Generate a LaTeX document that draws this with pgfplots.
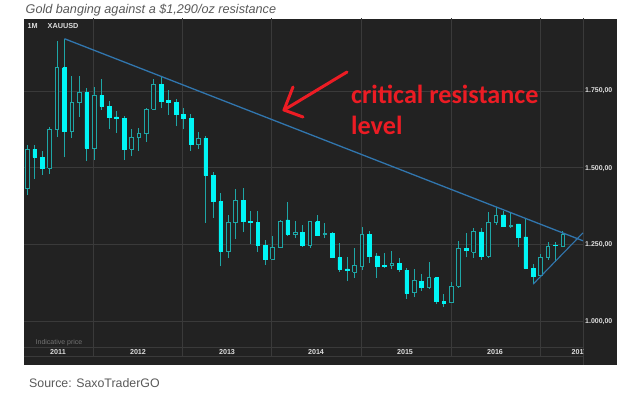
\documentclass[border=0pt]{standalone}
\usepackage{fontspec}
\setmainfont{Liberation Sans}
\newfontfamily\carlito{Carlito}
\usepackage{pgfplots}
\usepackage{pgfplotstable}
\pgfplotsset{compat=1.18}
\definecolor{bg}{HTML}{222222}
\definecolor{gridc}{HTML}{3A3A3A}
\definecolor{wickc}{HTML}{1EA6A6}
\definecolor{bodyc}{HTML}{00F5F5}
\definecolor{trend}{HTML}{3176AE}
\definecolor{redc}{HTML}{EC1C24}
\definecolor{lblc}{HTML}{DDDDDD}

\pgfplotstableread{
i o h l c
-9 1432 1575 1412 1560
-8 1560 1575 1464 1534
-7 1534 1555 1478 1499
-6 1499 1632 1480 1626
-5 1626 1911 1600 1826
-4 1826 1920 1534 1620
-3 1620 1800 1597 1712
-2 1712 1800 1666 1745
-1 1745 1759 1522 1564
0 1562 1764 1527 1737
1 1736 1790 1688 1700
2 1700 1718 1626 1666
3 1666 1686 1615 1662
4 1662 1670 1526 1560
5 1560 1625 1538 1598
6 1598 1630 1555 1612
7 1612 1694 1585 1690
8 1690 1790 1688 1772
9 1772 1796 1694 1718
10 1720 1754 1672 1712
11 1712 1725 1635 1675
12 1675 1695 1625 1662
13 1662 1676 1555 1578
14 1578 1616 1562 1596
15 1596 1605 1321 1476
16 1476 1488 1338 1390
17 1390 1417 1180 1230
18 1230 1348 1207 1322
19 1322 1433 1270 1395
20 1395 1434 1291 1327
21 1327 1361 1251 1322
22 1322 1361 1227 1249
23 1249 1267 1185 1203
24 1203 1279 1201 1242
25 1243 1332 1240 1325
26 1331 1390 1279 1284
27 1284 1328 1271 1289
28 1290 1314 1244 1247
29 1247 1328 1241 1325
30 1325 1347 1280 1282
31 1284 1322 1271 1287
32 1287 1290 1206 1208
33 1208 1255 1162 1170
34 1172 1209 1132 1168
35 1160 1239 1142 1183
36 1181 1307 1168 1284
37 1284 1294 1190 1212
38 1214 1222 1143 1181
39 1183 1224 1174 1180
40 1182 1231 1170 1190
41 1190 1206 1162 1170
42 1168 1175 1074 1092
43 1094 1170 1079 1134
44 1132 1155 1100 1112
45 1112 1195 1106 1143
46 1143 1145 1057 1065
47 1065 1089 1047 1059
48 1062 1130 1060 1116
49 1116 1263 1110 1239
50 1239 1287 1209 1231
51 1225 1304 1208 1292
52 1292 1304 1201 1214
53 1212 1358 1206 1322
54 1322 1374 1314 1347
55 1347 1361 1307 1309
56 1309 1354 1304 1314
57 1318 1318 1243 1276
58 1276 1334 1170 1173
59 1173 1187 1122 1149
60 1149 1220 1144 1209
61 1209 1260 1201 1246
62 1249 1260 1195 1247
63 1246 1295 1243 1284
}\gold

\begin{document}
\begin{tikzpicture}
\path[use as bounding box] (0bp,0bp) rectangle (640bp,393bp);
\begin{axis}[
  at={(24bp,28bp)}, anchor=south west,
  scale only axis, width=593bp, height=346bp,
  xmin=-9.435, xmax=70.27, ymin=859.2, ymax=1984.1,
  axis background/.style={fill=bg},
  axis line style={draw=none},
  xtick=\empty, ytick=\empty,
  wick/.style={draw=wickc, line width=0.9bp},
  filledbody/.style={fill=bodyc, draw=bodyc, line width=0.5bp},
  hollowbody/.style={fill=bg, draw=wickc, line width=0.8bp},
]
% grid
\pgfplotsinvokeforeach{-0.15,11.9,23.85,35.85,47.95,60}{
  \draw[gridc, line width=0.8bp] (#1,888.5) -- (#1,1990);
}
\pgfplotsinvokeforeach{1000,1250,1500,1750,917.75,888.5}{
  \draw[gridc, line width=0.8bp] (-9.5,#1) -- (65.7,#1);
}
\draw[gridc, line width=0.8bp] (65.7,850) -- (65.7,1990);
% candles
\pgfplotsinvokeforeach{0,...,72}{%
 \pgfplotstablegetelem{#1}{i}\of\gold\let\ci\pgfplotsretval
 \pgfplotstablegetelem{#1}{o}\of\gold\let\co\pgfplotsretval
 \pgfplotstablegetelem{#1}{h}\of\gold\let\chh\pgfplotsretval
 \pgfplotstablegetelem{#1}{l}\of\gold\let\cl\pgfplotsretval
 \pgfplotstablegetelem{#1}{c}\of\gold\let\cc\pgfplotsretval
 \pgfmathsetmacro\xa{\ci-0.25}\pgfmathsetmacro\xb{\ci+0.25}%
 \ifdim\cc pt<\co pt \def\bst{filledbody}\else\def\bst{hollowbody}\fi
 \edef\doplot{\noexpand\addplot[wick] coordinates {(\ci,\cl) (\ci,\chh)};
   \noexpand\addplot[\bst] coordinates {(\xa,\co) (\xb,\co) (\xb,\cc) (\xa,\cc) (\xa,\co)};}%
 \doplot
}
% trend lines
\addplot[trend, line width=1.3bp] coordinates {(-4,1920) (65.7,1263)};
\addplot[trend, line width=1.1bp] coordinates {(59,1122) (65.7,1289)};
\end{axis}
% labels in panel
\node[anchor=west, text=lblc, font=\bfseries\fontsize{7.3}{8}\selectfont, inner sep=0] at (27.5bp,367bp) {1M};
\node[anchor=west, text=lblc, font=\bfseries\fontsize{7.3}{8}\selectfont, inner sep=0] at (47.5bp,367bp) {XAUUSD};
\foreach \yy/\tt in {302/{1.750,00},224.7/{1.500,00},148/{1.250,00},71.3/{1.000,00}}{
  \node[anchor=west, text=lblc, font=\bfseries\fontsize{7}{8}\selectfont, inner sep=0] at (585bp,\yy bp) {\tt};
}
\node[text=black!55, font=\fontsize{7}{8}\selectfont, inner sep=0] at (59bp,50bp) {Indicative price};
\begin{scope}
\clip (24bp,0bp) rectangle (583bp,393bp);
\foreach \xx/\tt in {58/2011,138/2012,227/2013,316/2014,405/2015,495/2016,579.5/2017}{
  \node[text=lblc, font=\bfseries\fontsize{7.2}{8}\selectfont, inner sep=0] at (\xx bp,41bp) {\tt};
}
\end{scope}
% annotation
\draw[redc, line width=3bp, line cap=round] (347bp,321bp) -- (284bp,283bp);
\draw[redc, line width=3bp, line cap=round, line join=round] (293bp,306bp) -- (284bp,283bp) -- (303bp,276bp);
\node[anchor=base west, text=redc, font=\carlito\bfseries\fontsize{26.3}{30}\selectfont, inner sep=0] at (351bp,289.7bp) {critical resistance};
\node[anchor=base west, text=redc, font=\carlito\bfseries\fontsize{26.3}{30}\selectfont, inner sep=0] at (351bp,258bp) {level};
% title and source
\node[anchor=base west, text=black!65, font=\itshape\fontsize{12.7}{14}\selectfont, inner sep=0] at (25.5bp,379.7bp) {Gold banging against a \$1,290/oz resistance};
\node[anchor=base west, text=black!65, font=\fontsize{12.4}{14}\selectfont, inner sep=0] at (29bp,5.5bp) {Source: SaxoTraderGO};
\end{tikzpicture}
\end{document}
